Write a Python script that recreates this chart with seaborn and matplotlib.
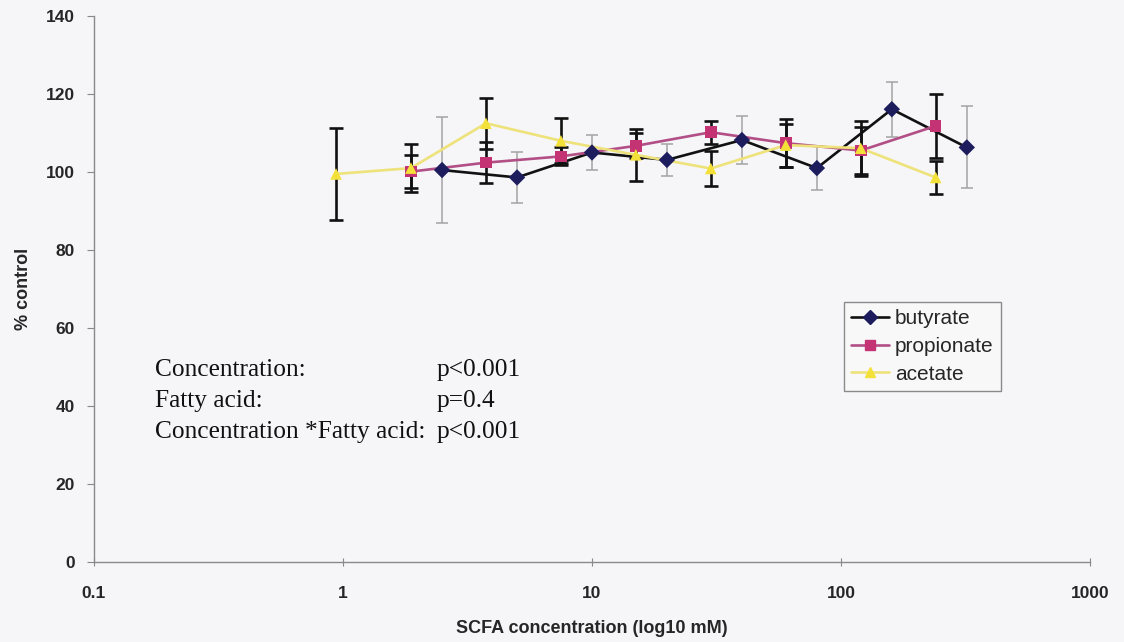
import matplotlib
matplotlib.use("Agg")
import matplotlib.pyplot as plt
from matplotlib.lines import Line2D
import numpy as np
import pandas as pd
import seaborn as sns

# Concentrations (mM) and cell growth (% of control, mean and error)
butyrate_conc = [2.5, 5, 10, 20, 40, 80, 160, 320]
butyrate_mean = [100.5, 98.6, 105.0, 103.1, 108.2, 101.0, 116.1, 106.3]
butyrate_err = [13.6, 6.5, 4.6, 4.0, 6.2, 5.6, 7.0, 10.5]

propionate_conc = [1.875, 3.75, 7.5, 15, 30, 60, 120, 240]
propionate_mean = [100.1, 102.4, 104.0, 106.7, 110.2, 107.4, 105.5, 111.8]
propionate_err = [4.3, 5.3, 2.3, 3.2, 3.0, 6.2, 6.0, 8.2]

acetate_conc = [0.9375, 1.875, 3.75, 7.5, 15, 30, 60, 120, 240]
acetate_mean = [99.5, 101.0, 112.5, 108.0, 104.4, 100.9, 106.9, 106.1, 98.6]
acetate_err = [11.7, 6.2, 6.5, 5.8, 6.6, 4.5, 5.5, 7.0, 4.3]

series_names = ["butyrate", "propionate", "acetate"]
x_ticks = [0.1, 1, 10, 100, 1000]
x_tick_labels = ["0.1", "1", "10", "100", "1000"]
y_ticks = [0, 20, 40, 60, 80, 100, 120, 140]

stats_labels = ["Concentration:", "Fatty acid:", "Concentration *Fatty acid:"]
stats_values = ["p<0.001", "p=0.4", "p<0.001"]

sns.set_theme(style="white")
plt.rcParams["font.family"] = ["Liberation Sans", "DejaVu Sans"]

frames = []
for name, c, m, e in [
    ("butyrate", butyrate_conc, butyrate_mean, butyrate_err),
    ("propionate", propionate_conc, propionate_mean, propionate_err),
    ("acetate", acetate_conc, acetate_mean, acetate_err),
]:
    frames.append(pd.DataFrame({"acid": name, "conc": c, "pct": m, "err": e}))
df = pd.concat(frames, ignore_index=True)

line_colors = {"butyrate": "#111111", "propionate": "#b24f86", "acetate": "#eee27a"}
marker_colors = {"butyrate": "#1d1d5e", "propionate": "#c43474", "acetate": "#f3e13a"}
marker_shapes = {"butyrate": "D", "propionate": "s", "acetate": "^"}
err_style = {
    "butyrate": dict(ecolor="#a3a3a3", elinewidth=1.1, capsize=4, capthick=1.1),
    "propionate": dict(ecolor="#111111", elinewidth=1.9, capsize=5, capthick=1.9),
    "acetate": dict(ecolor="#111111", elinewidth=1.9, capsize=5, capthick=1.9),
}

fig = plt.figure(figsize=(11.24, 6.42), dpi=100)
fig.patch.set_facecolor("#f6f6f8")

ax = fig.add_axes([94 / 1124, 80 / 642, (1090 - 94) / 1124, (562 - 16) / 642])
ax.patch.set_alpha(0)

for name in series_names:
    d = df[df.acid == name]
    ax.errorbar(d.conc, d.pct, yerr=d.err, fmt="none", zorder=1, **err_style[name])

sns.lineplot(data=df, x="conc", y="pct", hue="acid", hue_order=series_names,
             palette=line_colors, estimator=None, sort=True, legend=False,
             linewidth=1.9, ax=ax, zorder=2)
sns.scatterplot(data=df, x="conc", y="pct", hue="acid", style="acid",
                hue_order=series_names, style_order=series_names,
                palette=marker_colors, markers=marker_shapes, s=70,
                linewidth=0, legend=False, ax=ax, zorder=3)

ax.set_xscale("log")
ax.set_xlim(0.1, 1000)
ax.set_ylim(0, 140)
ax.set_xticks(x_ticks)
ax.set_xticklabels(x_tick_labels)
ax.xaxis.set_minor_locator(matplotlib.ticker.NullLocator())
ax.set_yticks(y_ticks)
for lab in ax.get_xticklabels() + ax.get_yticklabels():
    lab.set_fontweight("bold")
    lab.set_fontsize(12.5)
ax.tick_params(axis="y", direction="out", length=5, width=0.8, color="#888888", pad=9,
               left=True)
ax.tick_params(axis="x", direction="inout", length=6, width=0.8, color="#888888", pad=14,
               bottom=True)

for side in ["top", "right"]:
    ax.spines[side].set_visible(False)
for side in ["left", "bottom"]:
    ax.spines[side].set_color("#8a8a8a")
    ax.spines[side].set_linewidth(1.0)

ax.set_xlabel("SCFA concentration (log10 mM)", fontsize=13, fontweight="bold", labelpad=14)
ax.set_ylabel("% control", fontsize=13, fontweight="bold", labelpad=10)

handles = [
    Line2D([], [], color=line_colors[n], lw=1.9, marker=marker_shapes[n],
           markerfacecolor=marker_colors[n], markeredgecolor=marker_colors[n],
           markersize=7)
    for n in series_names
]
leg = ax.legend(handles, series_names, loc="upper left",
                bbox_to_anchor=(844 / 1124, 1 - 302 / 642), bbox_transform=fig.transFigure,
                fontsize=15, frameon=True, fancybox=False, framealpha=1,
                facecolor="#f8f8f8", edgecolor="#8a8a8a", handlelength=1.8,
                handletextpad=0.3, labelspacing=0.42, borderpad=0.35, borderaxespad=0)
leg.get_frame().set_linewidth(1.0)

for i, (lab, val) in enumerate(zip(stats_labels, stats_values)):
    y = 1 - (370 + 31 * i) / 642
    fig.text(155 / 1124, y, lab, family="Liberation Serif", fontsize=18.3,
             color="#111111", ha="left", va="center")
    fig.text(437 / 1124, y, val, family="Liberation Serif", fontsize=18.3,
             color="#111111", ha="left", va="center")

fig.savefig("out.png", dpi=100, facecolor=fig.get_facecolor())
